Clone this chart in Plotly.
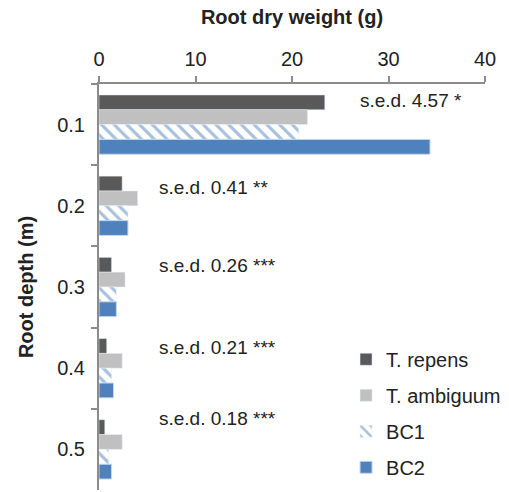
import plotly.graph_objects as go

depths = ["0.1", "0.2", "0.3", "0.4", "0.5"]
t_repens = [23.4, 2.4, 1.3, 0.8, 0.6]
t_ambiguum = [21.6, 4.0, 2.7, 2.4, 2.4]
bc1 = [20.7, 3.0, 1.8, 1.3, 1.0]
bc2 = [34.3, 3.0, 1.8, 1.5, 1.3]
sed_labels = ["s.e.d. 4.57 *", "s.e.d. 0.41 **", "s.e.d. 0.26 ***", "s.e.d. 0.21 ***", "s.e.d. 0.18 ***"]
sed_x = [26.8, 6.0, 6.0, 6.0, 6.0]
sed_y = [-0.3, 0.77, 1.74, 2.75, 3.62]

FONT = "Arial, Liberation Sans, sans-serif"
fig = go.Figure()
fig.add_trace(go.Bar(y=depths, x=t_repens, orientation="h", name="T. repens",
                     marker=dict(color="#595959"), legendgroup="a"))
fig.add_trace(go.Bar(y=depths, x=t_ambiguum, orientation="h", name="T. ambiguum",
                     marker=dict(color="#c0c0c0"), legendgroup="b"))
fig.add_trace(go.Bar(y=depths, x=bc1, orientation="h", name="BC1",
                     marker=dict(color="white",
                                 pattern=dict(shape="\\", fgcolor="#4f81bd", bgcolor="white",
                                              size=9, solidity=0.35)),
                     legendgroup="c"))
fig.add_trace(go.Bar(y=depths, x=bc2, orientation="h", name="BC2",
                     marker=dict(color="#4f81bd", line=dict(color="#c6d6ea", width=1)),
                     legendgroup="d"))

for lab, xx, yy in zip(sed_labels, sed_x, sed_y):
    fig.add_annotation(x=xx, y=yy, xref="x", yref="y", text=lab, showarrow=False,
                       xanchor="left", yanchor="middle",
                       font=dict(family=FONT, size=19, color="#222"))

fig.update_layout(
    width=509, height=492,
    margin=dict(l=99, r=24, t=84, b=2, autoexpand=False),
    paper_bgcolor="white", plot_bgcolor="white",
    barmode="group", bargap=0.27, bargroupgap=0,
    font=dict(family=FONT, size=19, color="#222"),
    legend=dict(x=0.64, y=0.37, xanchor="left", yanchor="top",
                traceorder="grouped", tracegroupgap=7, itemwidth=30,
                font=dict(family=FONT, size=20, color="#222"),
                bgcolor="rgba(0,0,0,0)"),
    xaxis=dict(side="top", range=[0, 40], dtick=10, showgrid=False, zeroline=False,
               showline=True, linecolor="#8c8c8c", linewidth=2,
               ticks="outside", ticklen=6, tickcolor="#8c8c8c", tickwidth=2,
               ticklabelstandoff=2,
               tickfont=dict(size=20, color="#222"),
               title=dict(text="<b>Root dry weight (g)</b>", standoff=18,
                          font=dict(size=20, color="#222"))),
    yaxis=dict(autorange="reversed", showgrid=False, showline=True,
               linecolor="#8c8c8c", linewidth=2, ticks="outside", tickson="boundaries",
               ticklen=6, tickcolor="#8c8c8c", tickwidth=2,
               ticklabelstandoff=8,
               tickfont=dict(size=20, color="#222"),
               title=dict(text="<b>Root depth (m)</b>", standoff=18,
                          font=dict(size=20, color="#222"))),
)

fig.write_html("out.html")
